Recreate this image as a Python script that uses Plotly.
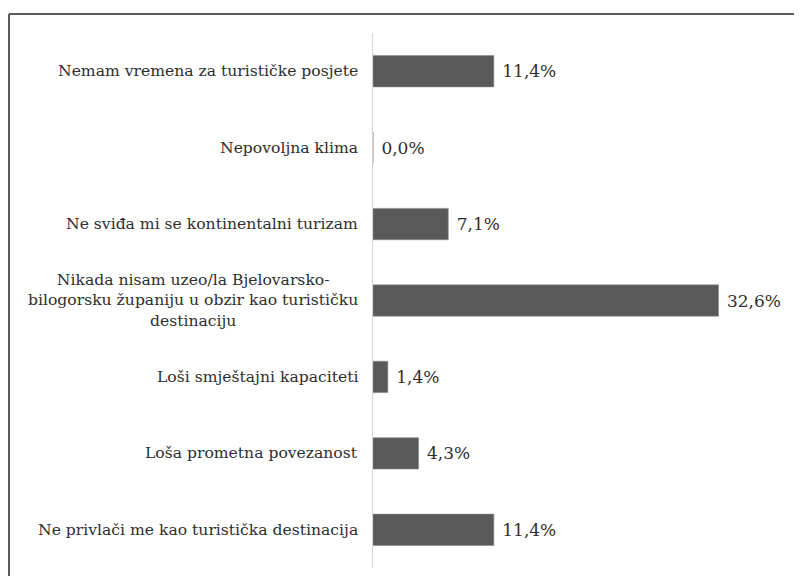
import plotly.graph_objects as go

categories = [
    "Nemam vremena za turističke posjete",
    "Nepovoljna klima",
    "Ne sviđa mi se kontinentalni turizam",
    "Nikada nisam uzeo/la Bjelovarsko-<br>bilogorsku županiju u obzir kao turističku<br>destinaciju",
    "Loši smještajni kapaciteti",
    "Loša prometna povezanost",
    "Ne privlači me kao turistička destinacija",
]
values = [11.4, 0.0, 7.1, 32.6, 1.4, 4.3, 11.4]
value_labels = [" " + f"{v:.1f}%".replace(".", ",") for v in values]

FONT = "DejaVu Serif"
TXT = "#2e2e2e"

L, T, B, W, H = 365, 25, 16, 802, 576
PW = W - L
PH = H - T - B

fig = go.Figure()
fig.add_trace(go.Bar(
    x=values,
    y=list(range(len(categories))),
    orientation="h",
    marker=dict(color="#595959", line=dict(color="#8a8a8a", width=0.6)),
    width=0.41,
    text=value_labels,
    textposition="outside",
    textfont=dict(family=FONT, size=17, color=TXT),
    cliponaxis=False,
    hoverinfo="skip",
))

for i, c in enumerate(categories):
    fig.add_annotation(
        x=0, xref="paper", y=i, yref="y",
        text=c, showarrow=False,
        xanchor="right", xshift=-13, align="center",
        font=dict(family=FONT, size=15.6, color=TXT),
    )

# outer frame (top and left edges visible)
fx = (1 - L) / PW
fy = (H - B - 6) / PH
fig.add_shape(type="line", xref="paper", yref="paper", x0=fx, x1=1.2, y0=fy, y1=fy,
              line=dict(color="#5a5a5a", width=2))
fig.add_shape(type="line", xref="paper", yref="paper", x0=fx, x1=fx, y0=-0.2, y1=fy,
              line=dict(color="#5a5a5a", width=2))

fig.update_layout(
    width=W, height=H,
    margin=dict(l=L, r=0, t=T, b=B),
    plot_bgcolor="white", paper_bgcolor="white",
    showlegend=False,
    font=dict(family=FONT),
)
fig.update_xaxes(range=[0, PW / 10.6], showgrid=False, zeroline=False, showticklabels=False,
                 showline=False, ticks="")
fig.update_yaxes(range=[6.5, -0.5], showgrid=False, zeroline=False, showticklabels=False,
                 showline=True, linecolor="#d4d4d4", linewidth=1, ticks="")

fig.write_html("out.html")
